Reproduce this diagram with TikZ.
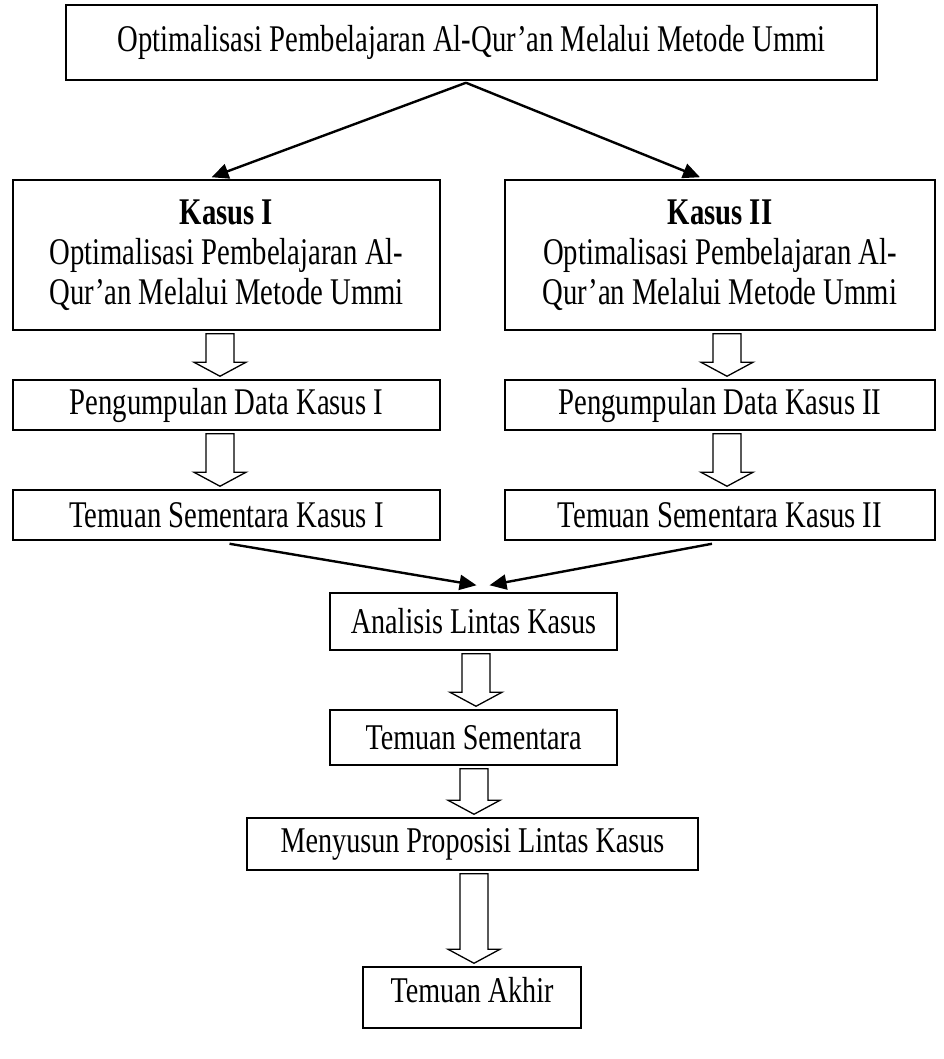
\documentclass[tikz,border=0pt]{standalone}
\usepackage{fontspec}
\usepackage{graphicx}
\setmainfont{Liberation Serif}
\usetikzlibrary{arrows.meta,calc}
\newcommand\tall[1]{\scalebox{0.99}[1.3]{#1}}
\newcommand\tallb[1]{\scalebox{0.97}[1.25]{#1}}
\newcommand\boxfont{\fontsize{29}{40}\selectfont\setlength{\lineskiplimit}{-30pt}}
\tikzset{
  box/.style={draw, line width=1.5pt, inner sep=0pt, align=center, font={\boxfont}},
  link/.style={line width=2.4pt, -{Triangle[length=17pt,width=15pt]}},
  hollowarr/.style={draw, line width=1.3pt, fill=white, line join=miter},
}
\newcommand\fatarrow[3]{%
  \draw[hollowarr] let \p1=(#1.south), \p2=(#2.north) in
    (#3pt-14pt,\y1-3pt) -- (#3pt-14pt,\y2+17pt) -- (#3pt-26pt,\y2+17pt) --
    (#3pt,\y2+3pt) -- (#3pt+26pt,\y2+17pt) -- (#3pt+14pt,\y2+17pt) --
    (#3pt+14pt,\y1-3pt) -- cycle;}
\begin{document}
\begin{tikzpicture}[x=1pt,y=-1pt]
\useasboundingbox (0,0) rectangle (944,1059);
\node[box, minimum width=811pt, minimum height=75pt] (top) at (471.5,42.5)
  {\tall{Optimalisasi Pembelajaran Al-Qur’an Melalui Metode Ummi}};
\node[box, minimum width=427pt, minimum height=150pt] (k1) at (226.5,255)
  {\tall{\textbf{Kasus I}}\\\tall{Optimalisasi Pembelajaran Al-}\\\tall{Qur’an Melalui Metode Ummi}};
\node[box, minimum width=430pt, minimum height=150pt] (k2) at (720,255)
  {\tall{\textbf{Kasus II}}\\\tall{Optimalisasi Pembelajaran Al-}\\\tall{Qur’an Melalui Metode Ummi}};
\node[box, minimum width=427pt, minimum height=50pt] (p1) at (226.5,405) {\tall{Pengumpulan Data Kasus I}};
\node[box, minimum width=430pt, minimum height=50pt] (p2) at (720,405) {\tall{Pengumpulan Data Kasus II}};
\node[box, minimum width=427pt, minimum height=50pt] (t1) at (226.5,515) {\tall{Temuan Sementara Kasus I}};
\node[box, minimum width=430pt, minimum height=50pt] (t2) at (720,515) {\tall{Temuan Sementara Kasus II}};
\node[box, minimum width=287pt, minimum height=57pt] (an) at (473.5,621.5) {\tallb{Analisis Lintas Kasus}};
\node[box, minimum width=287pt, minimum height=55pt] (ts) at (473.5,737.5) {\tallb{Temuan Sementara}};
\node[box, minimum width=451pt, minimum height=52pt] (ms) at (472.5,844) {\tallb{Menyusun Proposisi Lintas Kasus}};
\node[box, minimum width=218pt, minimum height=61pt, text height=35pt, text depth=26pt] (ak) at (472,997.5) {\tallb{Temuan Akhir}};

\coordinate (apex) at ([xshift=-5.5pt,yshift=-2pt]top.south);
\draw[link] (apex) -- ([xshift=-15pt,yshift=2pt]k1.north);
\draw[link] (apex) -- ([xshift=-20pt,yshift=2pt]k2.north);

\fatarrow{k1}{p1}{220}
\fatarrow{k2}{p2}{727}
\fatarrow{p1}{t1}{220}
\fatarrow{p2}{t2}{727}

\draw[link] ([xshift=3pt,yshift=-3pt]t1.south) -- ([xshift=3pt,yshift=7pt]an.north);
\draw[link] ([xshift=-8pt,yshift=-3pt]t2.south) -- ([xshift=16pt,yshift=7pt]an.north);

\fatarrow{an}{ts}{476}
\fatarrow{ts}{ms}{474}
\fatarrow{ms}{ak}{474}
\end{tikzpicture}
\end{document}
